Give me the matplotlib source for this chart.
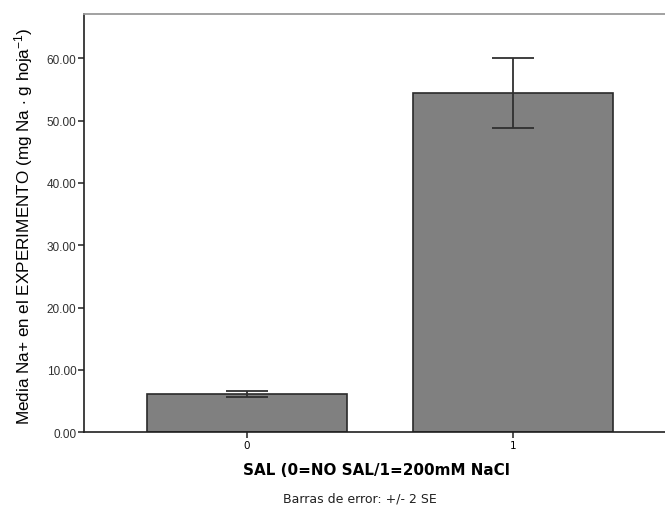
import matplotlib.pyplot as plt

# data
groups = ["0", "1"]
means = [6.2, 54.4]
errors = [0.5, 5.6]   # +/- 2 SE
yticks = [0, 10, 20, 30, 40, 50, 60]

plt.rcParams["mathtext.fontset"] = "custom"
plt.rcParams["mathtext.rm"] = "Liberation Sans"
plt.rcParams["mathtext.it"] = "Liberation Sans"

fig = plt.figure(figsize=(6.65, 5.06), dpi=100)
ax = fig.add_axes([84 / 665, 1 - 433.3 / 506, 591.4 / 665, 418.3 / 506])

x = list(range(len(groups)))
ax.bar(x, means, width=0.752, color="#808080", edgecolor="#2a2a2a", linewidth=1.2)
ax.errorbar(x, means, yerr=errors, fmt="none", ecolor="#303030",
            elinewidth=1.3, capsize=15, capthick=1.3)

ax.set_xlim(-0.612, 1.612)
ax.set_ylim(0, 67.1)
ax.set_xticks(x)
ax.set_xticklabels(groups, fontfamily="DejaVu Sans", fontsize=7.5)
ax.set_yticks(yticks)
ax.set_yticklabels(["%.2f" % v for v in yticks], fontfamily="Liberation Sans",
                   fontsize=8.5, color="#303030")
ax.tick_params(axis="both", length=4, width=1.1, color="#202020", pad=1.5)

for side in ["left", "bottom"]:
    ax.spines[side].set_color("#202020")
    ax.spines[side].set_linewidth(1.2)
ax.spines["top"].set_color("#9a9a9a")
ax.spines["top"].set_linewidth(1.3)
ax.spines["right"].set_visible(False)

ax.set_ylabel("Media Na+ en el EXPERIMENTO (mg Na $\\cdot$ g hoja$^{\\mathrm{-1}}$)",
              fontfamily="Liberation Sans", fontsize=12.3, va="center")
ax.yaxis.set_label_coords(-0.103, (433.3 - 226.5) / 418.3)
fig.text(376 / 665, 1 - 471 / 506, "SAL (0=NO SAL/1=200mM NaCl",
         ha="center", va="center", fontfamily="DejaVu Sans", fontweight="bold",
         fontsize=10.9)
fig.text(360 / 665, 1 - 499 / 506, "Barras de error: +/- 2 SE",
         ha="center", va="center", fontfamily="DejaVu Sans", fontsize=9,
         color="#202020")

plt.savefig("out.png", dpi=100)
